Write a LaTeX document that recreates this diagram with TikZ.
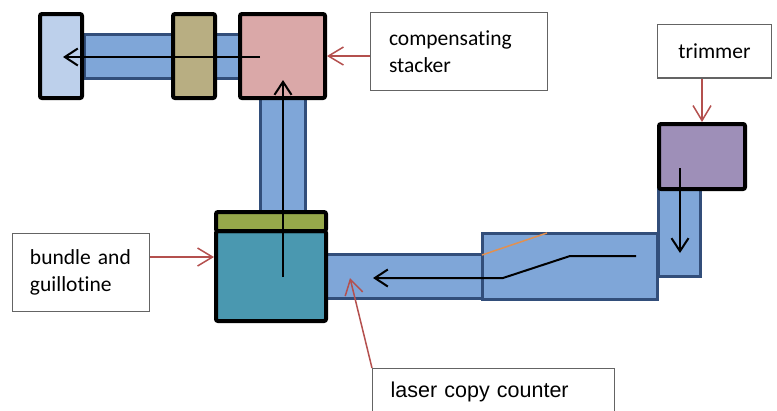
\documentclass[tikz,border=0pt]{standalone}
\usepackage{fontspec}
\setmainfont{Carlito}[Ligatures=CommonOff]
\newfontfamily\arialf{Liberation Sans}
\usetikzlibrary{arrows.meta,calc}
\definecolor{convfill}{RGB}{127,166,216}
\definecolor{convline}{RGB}{50,78,122}
\definecolor{lbfill}{RGB}{189,208,235}
\definecolor{khaki}{RGB}{184,174,130}
\definecolor{pinkfill}{RGB}{218,168,168}
\definecolor{greenfill}{RGB}{150,168,74}
\definecolor{tealfill}{RGB}{74,152,176}
\definecolor{purplefill}{RGB}{158,143,184}
\definecolor{calloutred}{RGB}{180,80,78}
\definecolor{orangeline}{RGB}{226,144,80}
\definecolor{tagline}{RGB}{100,100,100}
\begin{document}
\begin{tikzpicture}[x=1pt,y=-1pt,
  conv/.style={draw=convline, fill=convfill, line width=3pt, inner sep=0pt, outer sep=0pt},
  unit/.style={draw=black, line width=4pt, rounded corners=2pt, inner sep=0pt},
  tag/.style={draw=tagline, line width=1.2pt, fill=white, inner sep=0pt, font=\fontsize{21.5}{27}\selectfont},
  flow/.style={line width=2pt, -{Straight Barb[length=13pt,width=17pt]}},
  callout/.style={draw=calloutred, line width=1.5pt, -{Straight Barb[length=15pt,width=18pt]}}]
\useasboundingbox (0,0) rectangle (777,410);
% conveyors
\node[conv, minimum width=156pt, minimum height=44pt] (c1) at (162,56.5) {};
\node[conv, minimum width=45pt, minimum height=114pt] (c2) at (283,155) {};
\node[conv, minimum width=156.5pt, minimum height=44pt] (c3) at (404.25,276.5) {};
\node[conv, minimum width=42pt, minimum height=87.5pt] (c5) at (679.5,232.75) {};
\node[conv, minimum width=175pt, minimum height=66pt] (c4) at (570,266.5) {};
% units
\node[unit, fill=lbfill, minimum width=42pt, minimum height=84pt] (lb) at (61,56) {};
\node[unit, fill=khaki, minimum width=42pt, minimum height=84pt] (kh) at (194,56) {};
\node[unit, fill=pinkfill, minimum width=85pt, minimum height=84pt] (pk) at (282.5,56) {};
\node[unit, fill=tealfill, minimum width=110pt, minimum height=90pt] (tl) at (271,276) {};
\node[unit, fill=greenfill, minimum width=110pt, minimum height=19pt] (gr) at (271,221.5) {};
\node[unit, fill=purplefill, minimum width=86pt, minimum height=65pt] (pu) at (702,156.5) {};
% orange line
\coordinate (o1) at (482,255);
\coordinate (o2) at (547,233);
\draw[orangeline, line width=1.5pt] (o1) -- (o2);
% flow arrows
\coordinate (a1) at (260,57);
\coordinate (a2) at (63,57);
\draw[flow] (a1) -- (a2);
\coordinate (b1) at (283,277);
\coordinate (b2) at (283,80);
\draw[flow] (b1) -- (b2);
\coordinate (d1) at (636,256);
\coordinate (d2) at (570,256);
\coordinate (d3) at (503,278);
\coordinate (d4) at (373,278);
\draw[flow] (d1) -- (d2) -- (d3) -- (d4);
\coordinate (e1) at (680,168);
\coordinate (e2) at (680,253);
\draw[flow] (e1) -- (e2);
% labels
\node[tag, minimum height=78pt, inner xsep=18.4pt, text width=140pt, align=left] (comp) at (459,51.5) {compensating\\stacker};
\node[tag, minimum width=113.8pt, minimum height=53.8pt] (trim) at (714.5,51) {trimmer};
\node[tag, minimum height=77.8pt, inner xsep=17.4pt, text width=102pt, align=left] (bund) at (81,272.5) {bundle and\\guillotine};
\node[tag, anchor=north west, inner xsep=18pt, inner ysep=14pt, text width=206pt, align=left, text height=15pt, text depth=40pt, font=\arialf\fontsize{21.5}{27}\selectfont] (laser) at (372,368) {laser copy counter};
% callouts
\draw[callout] (comp.west |- pk) -- (pk.east);
\draw[callout] (trim.south -| pu) -- (pu.north);
\draw[callout] ([yshift=15.5pt]bund.east) -- ([yshift=15.5pt]bund.east -| tl.west);
\coordinate (lt) at (350,278);
\draw[callout] (laser.north west) -- (lt);
\end{tikzpicture}
\end{document}
